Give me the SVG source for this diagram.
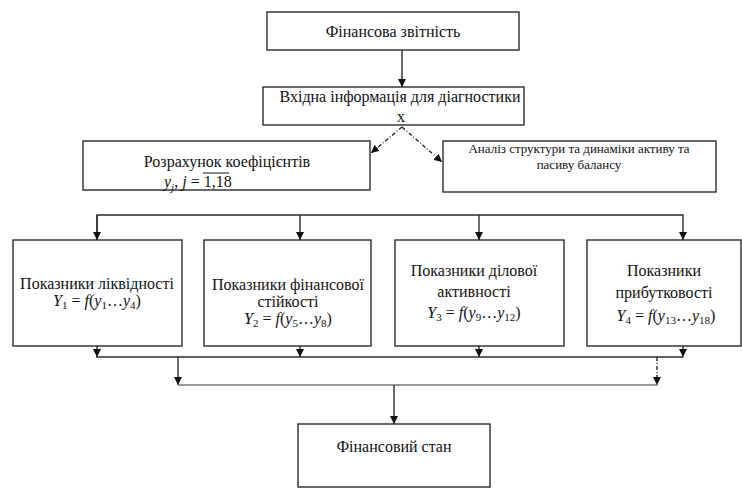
<svg xmlns="http://www.w3.org/2000/svg" width="742" height="489" viewBox="0 0 742 489">
<style>
  .box { fill: #ffffff; stroke: #2a2a2a; stroke-width: 1.4; }
  .t { font-family: "Liberation Serif", "DejaVu Serif", "Times New Roman", serif; font-size: 16px; fill: #111; }
  .ts { font-family: "Liberation Serif", "DejaVu Serif", "Times New Roman", serif; font-size: 13px; fill: #111; }
  .c { text-anchor: middle; }
  .i { font-style: italic; }
  .sub { font-size: 11px; }
  .ln { fill: none; stroke: #2a2a2a; stroke-width: 1.4; }
  .dash { stroke-dasharray: 4 2 1 2; }
  .lt { stroke: #777; }
</style>
<defs>
  <marker id="ah" markerUnits="userSpaceOnUse" markerWidth="8" markerHeight="8" refX="8" refY="4" orient="auto">
    <path d="M0,0 L8,4 L0,8 z" fill="#111"/>
  </marker>
</defs>
<rect width="742" height="489" fill="#ffffff"/>

<g id="connectors">
  <line class="ln" x1="402" y1="50" x2="402" y2="87" marker-end="url(#ah)"/>
  <line class="ln dash" x1="402" y1="127" x2="371" y2="153" marker-end="url(#ah)"/>
  <line class="ln dash" x1="402" y1="127" x2="442" y2="162" marker-end="url(#ah)"/>
  <polyline class="ln" points="97,240 97,215 683,215 683,240" marker-end="url(#ah)"/>
  <line class="ln" x1="97" y1="215" x2="97" y2="240" marker-end="url(#ah)"/>
  <line class="ln" x1="300" y1="215" x2="300" y2="240" marker-end="url(#ah)"/>
  <line class="ln" x1="479" y1="215" x2="479" y2="240" marker-end="url(#ah)"/>
  <line class="ln" x1="97" y1="346" x2="97" y2="357" marker-end="url(#ah)"/>
  <line class="ln" x1="300" y1="346" x2="300" y2="357" marker-end="url(#ah)"/>
  <line class="ln" x1="479" y1="346" x2="479" y2="357" marker-end="url(#ah)"/>
  <line class="ln" x1="683" y1="346" x2="683" y2="357" marker-end="url(#ah)"/>
  <line class="ln" x1="96" y1="357" x2="683" y2="357"/>
  <line class="ln" x1="178" y1="357" x2="178" y2="385" marker-end="url(#ah)"/>
  <line class="ln dash" x1="657" y1="357" x2="657" y2="385" marker-end="url(#ah)"/>
  <line class="ln lt" x1="178" y1="385" x2="657" y2="385"/>
  <line class="ln" x1="394" y1="385" x2="394" y2="424" marker-end="url(#ah)"/>
</g>

<g id="n-fin-report">
  <rect class="box" x="267" y="12" width="252" height="38"/>
  <text class="t c" x="393" y="37">Фінансова звітність</text>
</g>

<g id="n-input">
  <rect class="box" x="263" y="87" width="261" height="38"/>
  <text class="t c" x="400" y="102">Вхідна інформація для діагностики</text>
  <text class="t c" x="401" y="122">x</text>
</g>

<g id="n-coef">
  <rect class="box" x="83" y="141" width="287" height="49"/>
  <text class="t c" x="227" y="167">Розрахунок коефіцієнтів</text>
  <text class="t" x="164" y="187"><tspan class="i">y</tspan><tspan class="sub i" dy="4">j</tspan><tspan dy="-4">, </tspan><tspan class="i">j</tspan> = 1,18</text>
  <line x1="203" y1="173" x2="229" y2="173" stroke="#111" stroke-width="1"/>
</g>

<g id="n-analysis">
  <rect class="box" x="443" y="141" width="273" height="51"/>
  <text class="ts c" x="579" y="153">Аналіз структури та динаміки активу та</text>
  <text class="ts c" x="579" y="169">пасиву балансу</text>
</g>

<g id="n-liquidity">
  <rect class="box" x="13" y="240" width="169" height="106"/>
  <text class="t c" x="97" y="289">Показники ліквідності</text>
  <text class="t c" x="97" y="306"><tspan class="i">Y</tspan><tspan class="sub" dy="3">1</tspan><tspan dy="-3"> = </tspan><tspan class="i">f</tspan>(<tspan class="i">y</tspan><tspan class="sub" dy="3">1</tspan><tspan dy="-3">…</tspan><tspan class="i">y</tspan><tspan class="sub" dy="3">4</tspan><tspan dy="-3">)</tspan></text>
</g>

<g id="n-stability">
  <rect class="box" x="204" y="240" width="167" height="106"/>
  <text class="t c" x="288" y="290">Показники фінансової</text>
  <text class="t c" x="288" y="307">стійкості</text>
  <text class="t c" x="288" y="324"><tspan class="i">Y</tspan><tspan class="sub" dy="3">2</tspan><tspan dy="-3"> = </tspan><tspan class="i">f</tspan>(<tspan class="i">y</tspan><tspan class="sub" dy="3">5</tspan><tspan dy="-3">…</tspan><tspan class="i">y</tspan><tspan class="sub" dy="3">8</tspan><tspan dy="-3">)</tspan></text>
</g>

<g id="n-activity">
  <rect class="box" x="395" y="240" width="169" height="106"/>
  <text class="t c" x="474" y="276">Показники ділової</text>
  <text class="t c" x="474" y="297">активності</text>
  <text class="t c" x="474" y="318"><tspan class="i">Y</tspan><tspan class="sub" dy="3">3</tspan><tspan dy="-3"> = </tspan><tspan class="i">f</tspan>(<tspan class="i">y</tspan><tspan class="sub" dy="3">9</tspan><tspan dy="-3">…</tspan><tspan class="i">y</tspan><tspan class="sub" dy="3">12</tspan><tspan dy="-3">)</tspan></text>
</g>

<g id="n-profit">
  <rect class="box" x="587" y="240" width="154" height="106"/>
  <text class="t c" x="664" y="276">Показники</text>
  <text class="t c" x="664" y="298">прибутковості</text>
  <text class="t c" x="666" y="321"><tspan class="i">Y</tspan><tspan class="sub" dy="3">4</tspan><tspan dy="-3"> = </tspan><tspan class="i">f</tspan>(<tspan class="i">y</tspan><tspan class="sub" dy="3">13</tspan><tspan dy="-3">…</tspan><tspan class="i">y</tspan><tspan class="sub" dy="3">18</tspan><tspan dy="-3">)</tspan></text>
</g>

<g id="n-fin-state">
  <rect class="box" x="298" y="424" width="192" height="63"/>
  <text class="t c" x="394" y="452">Фінансовий стан</text>
</g>
</svg>
